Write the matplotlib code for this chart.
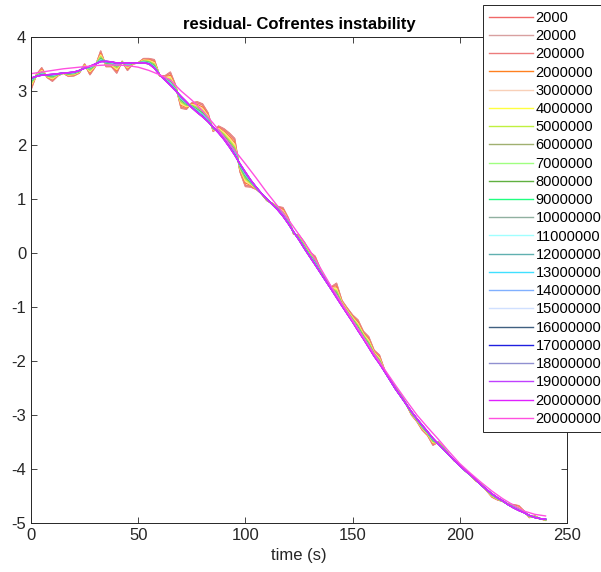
import matplotlib
matplotlib.use("Agg")
import matplotlib.pyplot as plt
import numpy as np

plt.rcParams['font.family'] = ['Liberation Sans', 'DejaVu Sans']
plt.rcParams['axes.unicode_minus'] = False

# temps (s), pas de 2.5 s
t = np.arange(0, 240.01, 2.5)

# signal résiduel brut (paramètre 2000)
raw = [3.02, 3.30, 3.43, 3.25, 3.18, 3.28, 3.33, 3.27, 3.28, 3.33,
       3.50, 3.30, 3.45, 3.74, 3.45, 3.45, 3.33, 3.55, 3.38, 3.50,
       3.52, 3.60, 3.60, 3.58, 3.28, 3.28, 3.35, 3.10, 2.68, 2.66,
       2.78, 2.80, 2.76, 2.60, 2.25, 2.35, 2.30, 2.22, 2.12, 1.50,
       1.23, 1.22, 1.18, 1.10, 0.97, 0.92, 0.86, 0.84, 0.65, 0.35,
       0.33, 0.20, 0.02, -0.06, -0.30, -0.48, -0.63, -0.56, -0.88, -1.02,
       -1.15, -1.24, -1.45, -1.55, -1.80, -1.89, -2.18, -2.33, -2.48, -2.62,
       -2.80, -3.00, -3.12, -3.28, -3.38, -3.56, -3.50, -3.60, -3.74, -3.85,
       -3.92, -4.03, -4.12, -4.22, -4.28, -4.40, -4.52, -4.57, -4.60, -4.65,
       -4.66, -4.68, -4.78, -4.90, -4.87, -4.92, -4.95]

# tendance lissée (paramètres 19000000 / 20000000)
trend = [3.24, 3.27, 3.29, 3.30, 3.31, 3.32, 3.33, 3.34, 3.35, 3.38,
         3.42, 3.46, 3.50, 3.54, 3.55, 3.54, 3.52, 3.52, 3.52, 3.52,
         3.52, 3.52, 3.50, 3.42, 3.30, 3.20, 3.10, 3.00, 2.90, 2.80,
         2.69, 2.60, 2.52, 2.43, 2.33, 2.22, 2.10, 1.96, 1.81, 1.65,
         1.50, 1.35, 1.22, 1.10, 1.00, 0.90, 0.80, 0.68, 0.54, 0.39,
         0.24, 0.08, -0.07, -0.22, -0.37, -0.52, -0.67, -0.83, -0.98, -1.13,
         -1.28, -1.44, -1.59, -1.75, -1.91, -2.05, -2.20, -2.36, -2.52, -2.66,
         -2.80, -2.94, -3.07, -3.19, -3.31, -3.43, -3.54, -3.64, -3.74, -3.84,
         -3.94, -4.03, -4.11, -4.20, -4.30, -4.38, -4.46, -4.53, -4.59, -4.66,
         -4.72, -4.77, -4.81, -4.86, -4.90, -4.92, -4.93]

# courbe la plus lisse (paramètre 200000000), pas de 5 s
t_smooth = np.arange(0, 240.01, 5)
smooth = [3.32, 3.35, 3.38, 3.41, 3.43, 3.45, 3.47, 3.48, 3.48, 3.47,
          3.44, 3.38, 3.30, 3.20, 3.00, 2.83, 2.63, 2.40, 2.15, 1.90,
          1.65, 1.39, 1.12, 0.87, 0.62, 0.34, 0.05, -0.28, -0.62, -0.94,
          -1.25, -1.56, -1.87, -2.16, -2.45, -2.73, -3.00, -3.23, -3.45, -3.68,
          -3.90, -4.08, -4.25, -4.41, -4.55, -4.67, -4.78, -4.84, -4.87]

labels = ['2000', '20000', '200000', '2000000', '3000000', '4000000',
          '5000000', '6000000', '7000000', '8000000', '9000000', '10000000',
          '11000000', '12000000', '13000000', '14000000', '15000000',
          '16000000', '17000000', '18000000', '19000000', '20000000']
# part du signal brut conservée par chaque lissage
poids = [1.0, 0.95, 0.9, 0.75, 0.65, 0.56, 0.48, 0.41, 0.35, 0.3, 0.25,
         0.21, 0.17, 0.14, 0.11, 0.08, 0.06, 0.04, 0.03, 0.02, 0.01, 0.0]
couleurs = ['#f06868', '#d8a0a0', '#ec7c7c', '#ff8020', '#f8d0b8', '#ffff40',
            '#c0f040', '#a0b070', '#a0ff80', '#60b040', '#20ff80', '#90b0a0',
            '#a0ffff', '#60b0b0', '#40e0ff', '#80b0ff', '#d0e0ff', '#406080',
            '#2020e0', '#9090d0', '#c040ff', '#e020ff']

raw = np.array(raw)
trend = np.array(trend)

fig = plt.figure(figsize=(6.01, 5.72), dpi=100)
ax = fig.add_axes([0.0516, 0.0857, 0.8918, 0.8497])

for lab, w, c in zip(labels, poids, couleurs):
    ax.plot(t, w * raw + (1 - w) * trend, color=c, lw=1.0, label=lab)
ax.plot(t_smooth, smooth, color='#ff50e0', lw=1.0, label='200000000')

ax.set_xlim(0, 250)
ax.set_ylim(-5, 4)
ax.set_xticks([0, 50, 100, 150, 200, 250])
ax.set_yticks(range(-5, 5))
ax.tick_params(direction='in', top=True, right=True, labelsize=12,
               colors='#262626', length=4, width=0.6)
for s in ax.spines.values():
    s.set_color('#262626')
    s.set_linewidth(0.7)

ax.set_title('residual- Cofrentes instability', fontsize=12,
             fontweight='bold', pad=6)
ax.set_xlabel('time (s)', fontsize=12, color='#262626', labelpad=4)

leg = fig.legend(loc='upper left', bbox_to_anchor=(483 / 601, 1 - 5 / 572),
                 fontsize=10.5, handlelength=3.0, handletextpad=0.2,
                 labelspacing=0.29, borderpad=0.4, borderaxespad=0,
                 fancybox=False, framealpha=1, edgecolor='#262626')
leg.get_frame().set_linewidth(0.7)

fig.savefig('out.png', dpi=100)
